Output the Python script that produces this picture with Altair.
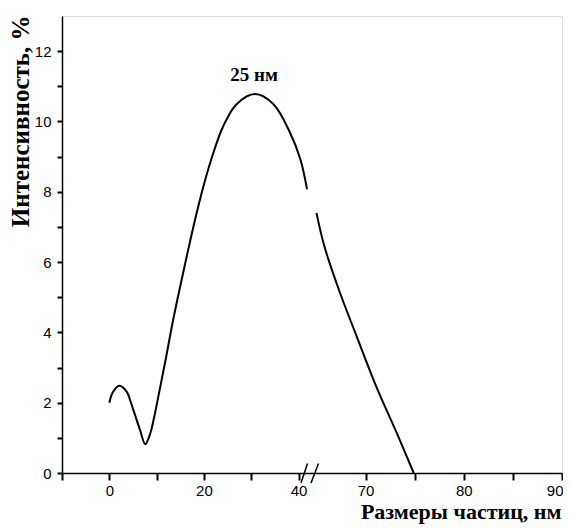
import altair as alt
import pandas as pd

# curve left of the axis break (nm, %)
left_x = [0, 0.8, 2.1, 3.7, 4.4, 5.1, 6.5, 7.6, 8.6, 9.5, 10.4, 11.8, 13.5, 15.6, 17.8, 19.9, 22.0, 24.1, 26.9, 30.8, 34.7, 38.2, 40.4, 41.8]
left_y = [2.0, 2.31, 2.48, 2.31, 2.07, 1.79, 1.22, 0.82, 1.1, 1.6, 2.2, 3.15, 4.36, 5.69, 7.02, 8.16, 9.11, 9.87, 10.49, 10.78, 10.49, 9.68, 8.92, 8.07]
# curve right of the axis break
right_x = [65.0, 65.8, 67.4, 69.1, 71.1, 73.2, 74.9]
right_y = [7.40, 6.45, 5.12, 3.88, 2.45, 1.12, 0.0]

x_ticks = [-10, 0, 10, 20, 30, 40, 70, 75, 80, 85, 90]
x_labeled = [0, 20, 40, 70, 80, 90]
y_ticks = list(range(0, 13))

peak_label = "25 нм"
peak_x, peak_y = 30.6, 11.16
break_x = 42

df = pd.DataFrame(
    {"x": left_x + right_x, "y": left_y + right_y,
     "seg": ["a"] * len(left_x) + ["b"] * len(right_x)}
)

xscale = alt.Scale(domain=[-10, 42, 65, 90], range=[0, 246, 254.5, 500], zero=False, nice=False)
yscale = alt.Scale(domain=[0, 13], zero=False, nice=False)

x_axis = alt.Axis(
    values=x_ticks,
    labelExpr="indexof(%s, datum.value) >= 0 ? datum.label : ''" % str(x_labeled),
    title="Размеры частиц, нм",
    titleFont="Liberation Serif", titleFontSize=22, titleFontWeight="bold", titleColor="black",
    titleAnchor="end", titleAlign="right", titleX=499, titleY=45, titleBaseline="alphabetic",
    labelFont="Liberation Sans", labelFontSize=15, labelColor="black", labelPadding=3,
    domain=True, domainColor="black", domainWidth=1.5,
    ticks=True, tickColor="black", tickWidth=2, tickSize=7,
    grid=False, labelFlush=True, labelFlushOffset=1,
)
y_axis = alt.Axis(
    values=y_ticks,
    labelExpr="datum.value % 2 == 0 ? datum.label : ''",
    title="Интенсивность, %",
    titleFont="Liberation Serif", titleFontSize=25, titleFontWeight="bold", titleColor="black",
    titleAnchor="end", titleAlign="right", titleAngle=-90, titleX=-42, titleY=-1, titleBaseline="middle",
    labelFont="Liberation Sans", labelFontSize=15, labelColor="black", labelPadding=6,
    domain=True, domainColor="black", domainWidth=1.5,
    ticks=True, tickColor="black", tickWidth=2, tickSize=5,
    grid=False,
)

X = alt.X("x:Q", scale=xscale, axis=x_axis)
Y = alt.Y("y:Q", scale=yscale, axis=y_axis)

line = alt.Chart(df).mark_line(color="black", strokeWidth=2, interpolate="catmull-rom").encode(
    x=X, y=Y, detail="seg:N",
)

lab_df = pd.DataFrame({"x": [peak_x], "y": [peak_y], "t": [peak_label]})
label = alt.Chart(lab_df).mark_text(
    font="Liberation Serif", fontSize=19, fontWeight="bold", color="black", baseline="alphabetic", align="center"
).encode(x=X, y=Y, text="t:N")

brk_df = pd.DataFrame({"x": [break_x], "y": [0]})
slash1 = alt.Chart(brk_df).mark_rule(
    color="black", strokeWidth=1.5, clip=False, xOffset=-7, x2Offset=-0.5, yOffset=10, y2Offset=-9.5
).encode(x=X, x2="x", y=Y, y2="y")
slash2 = alt.Chart(brk_df).mark_rule(
    color="black", strokeWidth=1.5, clip=False, xOffset=3, x2Offset=10.5, yOffset=10, y2Offset=-9.5
).encode(x=X, x2="x", y=Y, y2="y")

chart = alt.layer(line, label, slash1, slash2).properties(
    width=500, height=457,
    autosize=alt.AutoSizeParams(type="none"),
    padding={"left": 54, "top": 8, "right": 1, "bottom": 57},
).configure_view(stroke=None).configure(background="white")

chart.save("out.html", embed_options={"renderer": "svg", "actions": False})
